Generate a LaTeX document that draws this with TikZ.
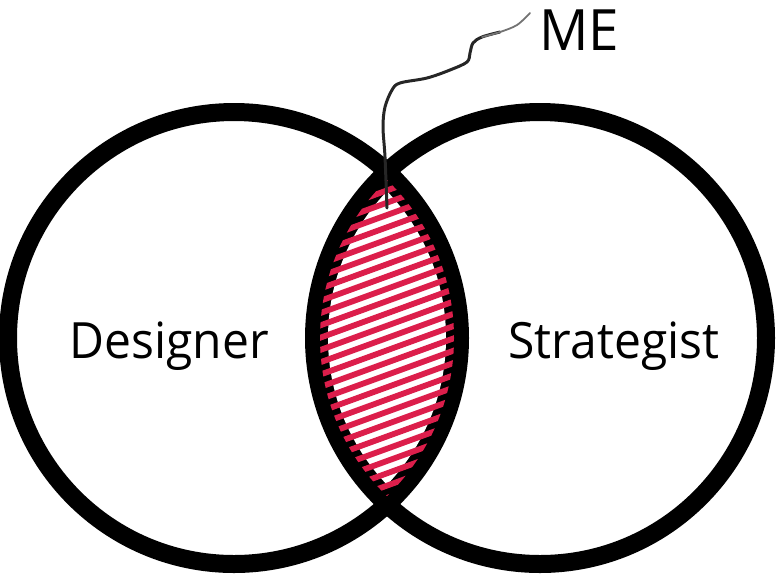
\documentclass[tikz,border=0pt]{standalone}
\usepackage{fontspec}
\setmainfont{Open Sans}[FakeStretch=0.96]
\definecolor{lensred}{HTML}{DC1E4B}
\begin{document}
\begin{tikzpicture}[x=1pt,y=-1pt,
  ring/.style={draw=black,line width=18pt},
  stripe/.style={draw=lensred,line width=5.8pt},
  wire/.style={draw=black!85,line width=3pt,line cap=round,line join=round},
  lbl/.style={font=\fontsize{50}{60}\selectfont,anchor=base,inner sep=0pt}]
\useasboundingbox (0,0) rectangle (778,574);
\coordinate (cl) at (234,338);
\coordinate (cr) at (540,338);
% black lens background
\begin{scope}
  \clip (cl) circle[radius=226pt];
  \fill[black] (cr) circle[radius=226pt];
\end{scope}
% white inner lens
\begin{scope}
  \clip (cl) circle[radius=212pt];
  \fill[white] (cr) circle[radius=212pt];
\end{scope}
% rings
\draw[ring] (cl) circle[radius=226pt];
\draw[ring] (cr) circle[radius=226pt];
% red stripes
\begin{scope}
  \clip (cl) circle[radius=220pt];
  \clip (cr) circle[radius=220pt];
  \foreach \k in {-19,...,19} {
    \draw[stripe] (237,{338+12.3*\k+54.6}) -- (537,{338+12.3*\k-54.6});
  }
\end{scope}
% wire
\coordinate (wstart) at (387,208);
\coordinate (wmid) at (500,32);
\coordinate (wend) at (530,13);
\draw[wire] plot[smooth,tension=0.55] coordinates {(wstart) (385,157) (383,127) (385,107) (392,90) (400,83) (427,78) (450,70) (467,62) (470,53) (473,43) (482,37) (wmid)};
\draw[draw=black!55,line width=1.8pt,line cap=round] plot[smooth,tension=0.55] coordinates {(482,37) (wmid) (517,25) (wend)};
% labels
\node[lbl] (designer) at (169,358) {Designer};
\node[lbl] (strategist) at (614,358) {Strategist};
\node[lbl,font=\fontsize{57}{68}\selectfont] (me) at (579,50) {ME};
\end{tikzpicture}
\end{document}
